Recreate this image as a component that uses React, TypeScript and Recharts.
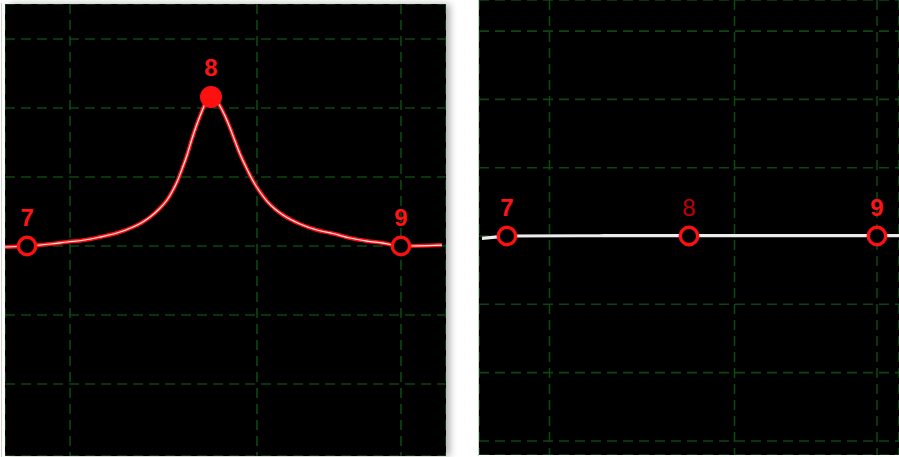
import React from 'react';
import { LineChart, Line, XAxis, YAxis, CartesianGrid } from 'recharts';

// Grid positions (axis units)
const gridX = [7.23, 8.23, 9];
const leftGridY = [-2, -1, 0, 1, 2, 3];
const rightGridY = [-3, -2, -1, 0, 1, 2, 3];

// Left panel curve
const leftCurveX = [6.882, 7, 7.123, 7.214, 7.31, 7.39, 7.481, 7.567, 7.615, 7.658, 7.701, 7.749, 7.775, 7.802, 7.829, 7.856, 7.882, 7.909, 7.936, 7.957, 7.984, 8.011, 8.032, 8.059, 8.086, 8.112, 8.139, 8.171, 8.209, 8.246, 8.283, 8.326, 8.369, 8.46, 8.551, 8.636, 8.727, 8.818, 8.904, 9, 9.219];
const leftCurveY = [-0.014, 0, 0.029, 0.058, 0.087, 0.13, 0.188, 0.275, 0.341, 0.42, 0.522, 0.667, 0.783, 0.928, 1.116, 1.319, 1.551, 1.768, 1.957, 2.087, 2.159, 2.116, 2.029, 1.884, 1.71, 1.522, 1.333, 1.145, 0.942, 0.783, 0.652, 0.536, 0.449, 0.319, 0.232, 0.181, 0.116, 0.072, 0.043, 0, 0.014];

// Right panel curve
const rightCurveX = [6.865, 6.95, 7, 7.5, 8, 8.5, 9, 9.119];
const rightCurveY = [-0.035, -0.012, 0, 0.004, 0.006, 0.006, 0.006, 0.006];

// Marked points
const pointX = [7, 7.984, 9];
const pointLabels = ['7', '8', '9'];
const leftPointY = [0, 2.159, 0];
const leftPointFilled = [false, true, false];
const rightPointY = [0, 0, 0];
const rightLabelColors = ['#ff1414', '#c00000', '#ff1414'];
const rightLabelWeights = ['bold', 'normal', 'bold'];

const leftCurve = leftCurveX.map((x, i) => ({ x, y: leftCurveY[i] }));
const rightCurve = rightCurveX.map((x, i) => ({ x, y: rightCurveY[i] }));
const leftPoints = pointX.map((x, i) => ({ x, y: leftPointY[i], label: pointLabels[i], filled: leftPointFilled[i], color: '#ff1414', weight: 'bold' }));
const rightPoints = pointX.map((x, i) => ({ x, y: rightPointY[i], label: pointLabels[i], filled: false, color: rightLabelColors[i], weight: rightLabelWeights[i] }));

const RED = '#ff1010';
const GRID = '#0d4613';

const renderPoint = (props: any) => {
  const { cx, cy, payload, index } = props;
  if (cx == null || cy == null) return <g key={index} />;
  return (
    <g key={`pt-${index}`}>
      {payload.filled ? (
        <circle cx={cx} cy={cy} r={11} fill={RED} stroke="none" />
      ) : (
        <circle cx={cx} cy={cy} r={8.7} fill="#000" stroke={RED} strokeWidth={3.4} />
      )}
      <text
        x={cx}
        y={cy - (payload.filled ? 21 : 20)}
        textAnchor="middle"
        fill={payload.color}
        fontSize={24}
        fontWeight={payload.weight}
        fontFamily="'Liberation Sans', Arial, sans-serif"
      >
        {payload.label}
      </text>
    </g>
  );
};

export default function App() {
  return (
    <div style={{ position: 'absolute', left: 0, top: 0, width: 899, height: 457, background: '#fff', overflow: 'hidden' }}>
      <div style={{ position: 'absolute', left: 1, top: 3, width: 1, height: 454, background: '#d0d0d0' }} />
      <div
        style={{
          position: 'absolute',
          left: 5,
          top: 4,
          width: 441,
          height: 452,
          background: '#000',
          boxShadow: '4px 0 7px rgba(0,0,0,0.3)',
        }}
      >
        <LineChart width={441} height={452} margin={{ top: 0, right: 0, bottom: 0, left: 0 }}>
          <CartesianGrid stroke={GRID} strokeWidth={1.6} strokeDasharray="10 6" />
          <XAxis type="number" dataKey="x" domain={[6.882, 9.241]} ticks={gridX} allowDataOverflow hide />
          <YAxis type="number" dataKey="y" domain={[-3.043, 3.507]} ticks={leftGridY} allowDataOverflow hide />
          <Line data={leftCurve} dataKey="y" type="monotone" stroke={RED} strokeWidth={4} dot={false} activeDot={false} isAnimationActive={false} />
          <Line data={leftCurve} dataKey="y" type="monotone" stroke="#ffe6e6" strokeWidth={1.2} dot={false} activeDot={false} isAnimationActive={false} />
          <Line data={leftPoints} dataKey="y" stroke="none" dot={renderPoint} activeDot={false} isAnimationActive={false} />
        </LineChart>
      </div>
      <div style={{ position: 'absolute', left: 478, top: 0, width: 1, height: 456, background: '#cfcfcf' }} />
      <div style={{ position: 'absolute', left: 479, top: 0, width: 420, height: 455, background: '#000' }}>
        <LineChart width={420} height={455} margin={{ top: 0, right: 0, bottom: 0, left: 0 }}>
          <CartesianGrid stroke={GRID} strokeWidth={1.6} strokeDasharray="10 6" />
          <XAxis type="number" dataKey="x" domain={[6.849, 9.119]} ticks={gridX} allowDataOverflow hide />
          <YAxis type="number" dataKey="y" domain={[-3.206, 3.455]} ticks={rightGridY} allowDataOverflow hide />
          <Line data={rightCurve} dataKey="y" type="monotone" stroke="#ececec" strokeWidth={3.2} dot={false} activeDot={false} isAnimationActive={false} />
          <Line data={rightPoints} dataKey="y" stroke="none" dot={renderPoint} activeDot={false} isAnimationActive={false} />
        </LineChart>
      </div>
    </div>
  );
}
